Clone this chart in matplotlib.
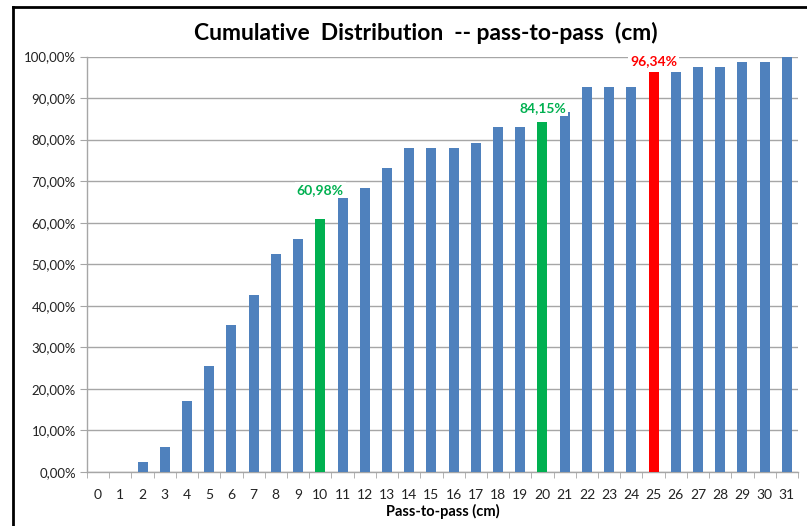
import matplotlib
matplotlib.use("Agg")
import matplotlib.pyplot as plt
from matplotlib.ticker import FuncFormatter, FixedLocator
import numpy as np

plt.rcParams['font.family'] = ['Lato', 'DejaVu Sans']

categories = list(range(32))
values = [0.0, 0.0, 2.44, 6.10, 17.07, 25.61, 35.37, 42.68, 52.44, 56.10,
          60.98, 65.85, 68.29, 73.17, 78.05, 78.05, 78.05, 79.27, 82.93, 82.93,
          84.15, 86.59, 92.68, 92.68, 92.68, 96.34, 96.34, 97.56, 97.56, 98.78,
          98.78, 100.0]
highlight_green = [10, 20]
highlight_red = [25]
label_bars = [10, 20, 25]
label_texts = ["60,98%", "84,15%", "96,34%"]
label_colors = ["#00B050", "#00B050", "#FF0000"]
label_offsets = [16, 6, 3]  # points above bar top

blue = "#4F81BD"
colors = []
for c in categories:
    if c in highlight_green:
        colors.append("#00B050")
    elif c in highlight_red:
        colors.append("#FF0000")
    else:
        colors.append(blue)

W, H = 807, 526
fig = plt.figure(figsize=(W / 100, H / 100), dpi=100)
ax = fig.add_axes([87 / W, 1 - 472 / H, (798 - 87) / W, (472 - 56.5) / H])

ax.bar(categories, values, width=0.45, color=colors, zorder=3)

ax.set_xlim(-0.5, 31.5)
ax.set_ylim(0, 100)
ax.set_yticks(np.arange(0, 101, 10))
ax.yaxis.set_major_formatter(FuncFormatter(lambda v, p: f"{v:.2f}%".replace('.', ',')))
ax.grid(axis='y', color='#A6A6A6', linewidth=1.0, zorder=0)
ax.set_axisbelow(True)

ax.set_xticks(categories)
ax.set_xticklabels([str(c) for c in categories])
ax.xaxis.set_minor_locator(FixedLocator(np.arange(-0.5, 32, 1)))
ax.tick_params(axis='x', which='major', length=0, pad=12, labelsize=10, labelcolor='#222222')
ax.tick_params(axis='x', which='minor', length=4, color='#A6A6A6', direction='out')
ax.tick_params(axis='y', length=5, color='#A6A6A6', direction='out', labelsize=9.5,
               labelcolor='#222222', pad=3)

for s in ['top', 'right']:
    ax.spines[s].set_visible(False)
for s in ['left', 'bottom']:
    ax.spines[s].set_color('#A6A6A6')
    ax.spines[s].set_linewidth(1.0)

for b, t, col, off in zip(label_bars, label_texts, label_colors, label_offsets):
    ax.annotate(t, xy=(categories[b], values[b]), xytext=(0, off), textcoords='offset points',
                ha='center', va='bottom', color=col, fontsize=10, fontweight='bold',
                bbox=dict(boxstyle='square,pad=0.15', fc='white', ec='none'), zorder=5)

ax.set_xlabel("Pass-to-pass (cm)", fontsize=10.5, fontweight='bold', labelpad=2)

fig.text(426 / W, 1 - 33 / H, "Cumulative  Distribution  -- pass-to-pass  (cm)",
         ha='center', va='center', fontsize=16.5, fontweight='bold')

# outer frame (left and top edges visible)
fig.add_artist(plt.Line2D([12.5 / W, 12.5 / W], [0, 1 - 7 / H], transform=fig.transFigure,
                          color='black', linewidth=2))
fig.add_artist(plt.Line2D([12.5 / W, 1], [1 - 7 / H, 1 - 7 / H], transform=fig.transFigure,
                          color='black', linewidth=2))

fig.savefig("out.png", dpi=100)
